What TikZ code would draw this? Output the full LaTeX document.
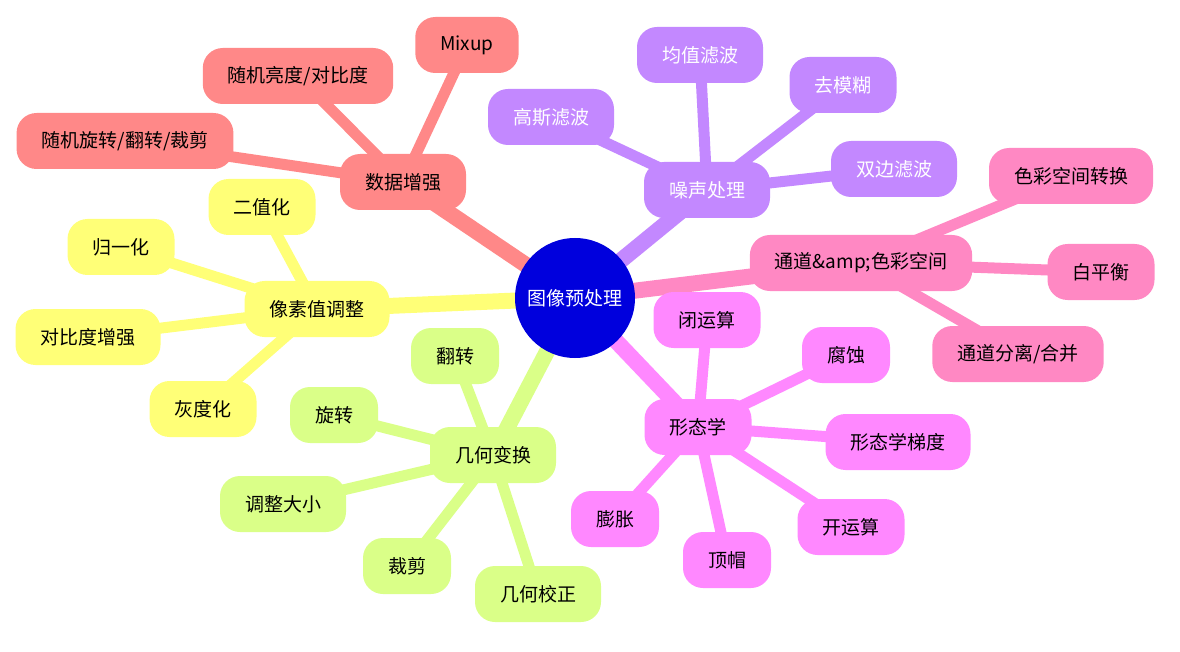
\documentclass[tikz,border=0pt]{standalone}
\usepackage{fontspec}
\setmainfont{Noto Sans CJK SC}
\usetikzlibrary{backgrounds}
\definecolor{rootblue}{HTML}{0000DD}
\definecolor{augred}{HTML}{FF8888}
\definecolor{noisepurple}{HTML}{C388FF}
\definecolor{chanpink}{HTML}{FF88C3}
\definecolor{morphmag}{HTML}{FF88FF}
\definecolor{geogreen}{HTML}{DAFF88}
\definecolor{pixyellow}{HTML}{FFFF77}
\tikzset{
  topic/.style={rounded corners=20pt, minimum height=56pt, inner xsep=25pt,
    font=\fontsize{19}{22}\selectfont, text=black},
  trunk/.style={line width=16pt},
  twig/.style={line width=11pt}
}
\begin{document}
\begin{tikzpicture}[x=1pt,y=-1pt]
\useasboundingbox (0,0) rectangle (1180,652);
\node[circle, fill=rootblue, minimum size=120pt, inner sep=0pt, text=white,
  font=\fontsize{19}{22}\selectfont] (root) at (575,298) {图像预处理};

\node[topic, fill=augred] (aug) at (403,182) {数据增强};
\node[topic, fill=augred] (mixup) at (467,45) {Mixup};
\node[topic, fill=augred] (bright) at (298,76) {随机亮度/对比度};
\node[topic, fill=augred] (rotflip) at (125,141) {随机旋转/翻转/裁剪};

\node[topic, fill=noisepurple, text=white] (noise) at (707,190) {噪声处理};
\node[topic, fill=noisepurple, text=white] (gauss) at (551,117) {高斯滤波};
\node[topic, fill=noisepurple, text=white] (mean) at (700,55) {均值滤波};
\node[topic, fill=noisepurple, text=white] (deblur) at (843,85) {去模糊};
\node[topic, fill=noisepurple, text=white] (bilat) at (894,169) {双边滤波};

\node[topic, fill=chanpink] (chan) at (861,263) {通道\&amp;色彩空间};
\node[topic, fill=chanpink] (cspace) at (1071,176) {色彩空间转换};
\node[topic, fill=chanpink] (wbal) at (1101,272) {白平衡};
\node[topic, fill=chanpink] (split) at (1018,354) {通道分离/合并};

\node[topic, fill=morphmag] (morph) at (698,427) {形态学};
\node[topic, fill=morphmag] (close) at (707,320) {闭运算};
\node[topic, fill=morphmag] (erode) at (846,355) {腐蚀};
\node[topic, fill=morphmag] (grad) at (898,442) {形态学梯度};
\node[topic, fill=morphmag] (open) at (851,527) {开运算};
\node[topic, fill=morphmag] (tophat) at (727,560) {顶帽};
\node[topic, fill=morphmag] (dilate) at (615,519) {膨胀};

\node[topic, fill=geogreen] (geo) at (493,455) {几何变换};
\node[topic, fill=geogreen] (flip) at (455,356) {翻转};
\node[topic, fill=geogreen] (rot) at (334,415) {旋转};
\node[topic, fill=geogreen] (resize) at (283,504) {调整大小};
\node[topic, fill=geogreen] (crop) at (407,566) {裁剪};
\node[topic, fill=geogreen] (geocor) at (538,594) {几何校正};

\node[topic, fill=pixyellow] (pix) at (317,309) {像素值调整};
\node[topic, fill=pixyellow] (binar) at (262,207) {二值化};
\node[topic, fill=pixyellow] (norm) at (121,247) {归一化};
\node[topic, fill=pixyellow] (contr) at (88,337) {对比度增强};
\node[topic, fill=pixyellow] (gray) at (203,409) {灰度化};

\begin{scope}[on background layer]
\draw[trunk, augred] (root.center) -- (aug.center);
\draw[twig, augred] (aug.center) -- (mixup.center);
\draw[twig, augred] (aug.center) -- (bright.center);
\draw[twig, augred] (aug.center) -- (rotflip.center);

\draw[trunk, noisepurple] (root.center) -- (noise.center);
\draw[twig, noisepurple] (noise.center) -- (gauss.center);
\draw[twig, noisepurple] (noise.center) -- (mean.center);
\draw[twig, noisepurple] (noise.center) -- (deblur.center);
\draw[twig, noisepurple] (noise.center) -- (bilat.center);

\draw[trunk, chanpink] (root.center) -- (chan.center);
\draw[twig, chanpink] (chan.center) -- (cspace.center);
\draw[twig, chanpink] (chan.center) -- (wbal.center);
\draw[twig, chanpink] (chan.center) -- (split.center);

\draw[trunk, morphmag] (root.center) -- (morph.center);
\draw[twig, morphmag] (morph.center) -- (close.center);
\draw[twig, morphmag] (morph.center) -- (erode.center);
\draw[twig, morphmag] (morph.center) -- (grad.center);
\draw[twig, morphmag] (morph.center) -- (open.center);
\draw[twig, morphmag] (morph.center) -- (tophat.center);
\draw[twig, morphmag] (morph.center) -- (dilate.center);

\draw[trunk, geogreen] (root.center) -- (geo.center);
\draw[twig, geogreen] (geo.center) -- (flip.center);
\draw[twig, geogreen] (geo.center) -- (rot.center);
\draw[twig, geogreen] (geo.center) -- (resize.center);
\draw[twig, geogreen] (geo.center) -- (crop.center);
\draw[twig, geogreen] (geo.center) -- (geocor.center);

\draw[trunk, pixyellow] (root.center) -- (pix.center);
\draw[twig, pixyellow] (pix.center) -- (binar.center);
\draw[twig, pixyellow] (pix.center) -- (norm.center);
\draw[twig, pixyellow] (pix.center) -- (contr.center);
\draw[twig, pixyellow] (pix.center) -- (gray.center);
\end{scope}
\end{tikzpicture}
\end{document}
